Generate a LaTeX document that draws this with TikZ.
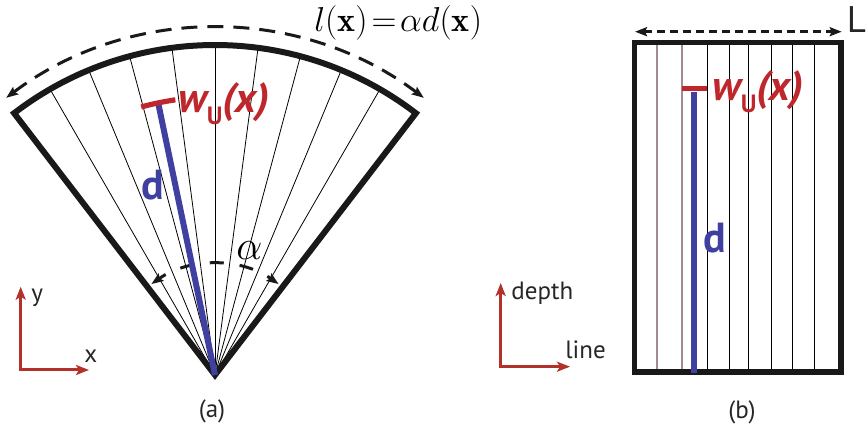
\documentclass[tikz,border=0pt]{standalone}
\usepackage{fontspec}
\setsansfont{PT Sans}
\usetikzlibrary{arrows.meta,calc}
\definecolor{wred}{RGB}{190,40,45}
\definecolor{axred}{RGB}{180,48,42}
\definecolor{dblue}{RGB}{64,64,160}
\definecolor{thin}{RGB}{45,45,45}
\definecolor{pinkgray}{RGB}{163,140,143}
\begin{document}
\begin{tikzpicture}[x=0.5pt,y=0.5pt,
  outline/.style={line width=3pt,black!90,line join=miter},
  thinline/.style={line width=0.5pt,thin},
  dimarrow/.style={line width=1.5pt,black!90,{Stealth[length=6pt,width=4.5pt,inset=1pt]}-{Stealth[length=6pt,width=4.5pt,inset=1pt]}},
  axis/.style={line width=1.5pt,axred,-{Stealth[length=6.5pt,width=5pt,inset=1.5pt]}},
  lab/.style={font=\sffamily\fontsize{12.5}{14}\selectfont,text=black!85,inner sep=0pt},
  wlab/.style={font=\sffamily\bfseries\fontsize{21}{24}\selectfont,text=wred,inner sep=0pt},
  dlab/.style={font=\sffamily\bfseries\fontsize{21}{23}\selectfont,text=dblue,inner sep=0pt},
  mlab/.style={font=\fontsize{17}{20}\selectfont,inner sep=0pt}]
\useasboundingbox (0,0) rectangle (867,432);

% ---------- (a) fan ----------
\coordinate (A) at (215,57);
\foreach \k in {-4,...,4}{
  \draw[thinline] (A) -- ($(A)+(90+7.5*\k:330)$);
}
\draw[outline] ($(A)+(127.5:330)$) coordinate (FL) -- (A) -- ($(A)+(52.5:330)$) coordinate (FR)
  arc[start angle=52.5,end angle=127.5,radius=330] -- cycle;
% outer dashed arc
\draw[dimarrow,dash pattern=on 8pt off 5pt]
  ($(A)+(127:347)$) coordinate (DL) arc[start angle=127,end angle=53,radius=347] coordinate (DR);
% small alpha arc
\draw[dimarrow,dash pattern=on 7pt off 8pt,dash phase=3pt]
  ($(A)+(125:111)$) coordinate (SL) arc[start angle=125,end angle=55,radius=111] coordinate (SR);
% blue d line
\draw[line width=3pt,dblue] (A) -- ($(A)+(101.8:278)$) coordinate (DT);
% red arc
\draw[line width=2.6pt,wred] ($(A)+(105.4:278)$) arc[start angle=105.4,end angle=98.2,radius=278];

\node[wlab,anchor=base west] (wa) at (178,319) {\itshape w\raisebox{-0.28em}{\upshape\fontsize{12.5}{12.5}\selectfont U}(x)};
\node[dlab,anchor=base west] (da) at (141,232) {d};
\node[font=\fontsize{22}{24}\selectfont,inner sep=0pt,anchor=base west] (alpha) at (236,172) {$\alpha$};
\node[mlab,anchor=base west] (lx) at (314,400) {$l(\mathbf{x})\!=\!\alpha d(\mathbf{x})$};

% axes (a)
\coordinate (Oa) at (20.7,62);
\coordinate (Ya) at (20.7,145.3);
\coordinate (Xa) at (89,62);
\draw[axis] (Oa) -- (Ya);
\draw[axis] ([xshift=-0.75pt]Oa) -- (Xa);
\node[lab,anchor=base west] (ylab) at (31,130) {y};
\node[lab,anchor=base west] (xlab) at (84,69) {x};
\node[lab] (capa) at (212,21) {(a)};

% ---------- (b) rectangle ----------
\foreach \xx in {707.3,729.3,748.7,771.7,792.3,814.3}{
  \draw[thinline,line width=0.7pt] (\xx,60) -- (\xx,389.5);
}
\foreach \xx in {657.3,682}{
  \draw[line width=0.9pt,pinkgray] (\xx,60) -- (\xx,389.5);
}
\draw[line width=2.75pt,black!90,line join=miter] (634.5,60) rectangle (841,389.5);
\draw[line width=3pt,dblue] (694.3,59) -- (694.3,340) coordinate (BT);
\draw[line width=2.5pt,wred] (682,343) -- (706.7,343);
\node[wlab,anchor=base west] (wb) at (712,331) {\itshape w\raisebox{-0.28em}{\upshape\fontsize{12.5}{12.5}\selectfont U}(x)};
\node[dlab,anchor=base west] (db) at (703,179) {d};

\coordinate (LL) at (635,400.3);
\coordinate (LR) at (841.7,400.3);
\draw[dimarrow,dash pattern=on 4pt off 2.5pt] (LL) -- (LR);
\node[font=\sffamily\fontsize{18.5}{20}\selectfont,text=black!85,inner sep=0pt,anchor=base east] (Llab) at (866.5,399) {L};

% axes (b)
\coordinate (Ob) at (500.7,65.3);
\coordinate (Yb) at (500.7,149);
\coordinate (Xb) at (570,65.3);
\draw[axis] (Ob) -- (Yb);
\draw[axis] ([xshift=-0.75pt]Ob) -- (Xb);
\node[lab,anchor=base west] (depth) at (511,132) {depth};
\node[lab,anchor=base west] (line) at (565,73) {line};
\node[lab] (capb) at (742,20) {(b)};
\end{tikzpicture}
\end{document}
